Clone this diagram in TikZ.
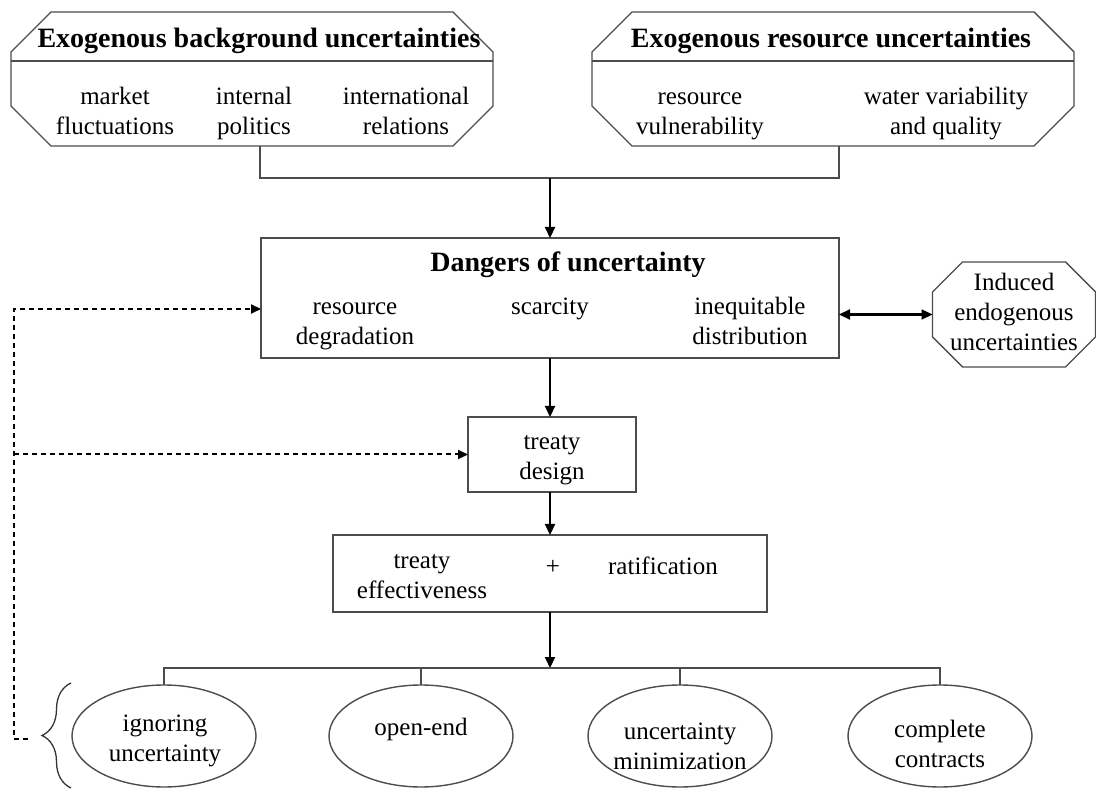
\documentclass[tikz,border=0pt]{standalone}
\usepackage{fontspec}
\setmainfont{Liberation Serif}
\usetikzlibrary{arrows.meta,shapes.geometric,decorations.pathreplacing}
\newcommand{\octframe}[2]{%
  \draw[frame]
    ([xshift=#2]#1.north west)--([xshift=-#2]#1.north east)
    --([yshift=-#2]#1.north east)--([yshift=#2]#1.south east)
    --([xshift=-#2]#1.south east)--([xshift=#2]#1.south west)
    --([yshift=#2]#1.south west)--([yshift=-#2]#1.north west)--cycle;%
}
% fixed top/bottom so every text block is centred the same way
\newcommand{\cell}[2][21pt]{\rule{0pt}{#1}#2\strut}

\begin{document}
\begin{tikzpicture}[x=1pt,y=-1pt,
    frame/.style={draw=black!70,line width=1.4pt},
    base/.style={inner sep=0pt,outer sep=0pt},
    txt/.style={align=center,inner sep=0pt,font=\fontsize{25}{30}\selectfont},
    head/.style={inner sep=0pt,font=\fontsize{28}{32}\selectfont\bfseries},
    tree/.style={draw=black!70,line width=1.4pt},
    arr/.style={line width=2.2pt,-{Triangle[length=11pt,width=10pt]}},
    dashline/.style={line width=2pt,dash pattern=on 5pt off 4pt},
    oval/.style={ellipse,frame,base,minimum width=184pt,minimum height=102pt}]
  \useasboundingbox (0,0) rectangle (1096,791);

  % exogenous uncertainties
  \node[base,minimum width=482pt,minimum height=134pt] (bgunc) at (252,79) {};
  \octframe{bgunc}{40pt}
  \draw[frame] ([yshift=-49pt]bgunc.north west)--([yshift=-49pt]bgunc.north east);
  \node[head] (bghead) at (259,41) {Exogenous background uncertainties};
  \node[txt] (market) at (115,114) {\cell{market\\fluctuations}};
  \node[txt] (politics) at (254,114) {\cell{internal\\politics}};
  \node[txt] (relations) at (406,114) {\cell{international\\relations}};

  \node[base,minimum width=482pt,minimum height=134pt] (resunc) at (833,79) {};
  \octframe{resunc}{40pt}
  \draw[frame] ([yshift=-49pt]resunc.north west)--([yshift=-49pt]resunc.north east);
  \node[head] (reshead) at (831,41) {Exogenous resource uncertainties};
  \node[txt] (vulner) at (700,114) {\cell{resource\\vulnerability}};
  \node[txt] (water) at (946,114) {\cell{water variability\\and quality}};

  % dangers
  \node[base,frame,minimum width=578pt,minimum height=120pt] (dangers) at (550,298) {};
  \node[head] (dhead) at (568,265) {Dangers of uncertainty};
  \node[txt] (degrad) at (355,324) {\cell{resource\\degradation}};
  \node[txt] (scarcity) at (550,309) {\cell{scarcity}};
  \node[txt] (inequit) at (750,324) {\cell{inequitable\\distribution}};

  \node[base,minimum width=163pt,minimum height=105pt,txt] (induced) at (1014,314.5)
    {\cell[22pt]{Induced\\endogenous\\uncertainties}};
  \octframe{induced}{30pt}

  % treaty
  \node[base,frame,txt,minimum width=168pt,minimum height=75pt]
    (design) at (552,454.5) {\cell[30pt]{treaty\\design}};
  \node[base,frame,minimum width=434pt,minimum height=77pt] (effect) at (550,573.5) {};
  \node[txt] (efftxt) at (422,577) {\cell{treaty\\effectiveness}};
  \node[txt] (plus) at (553,569) {\cell{+}};
  \node[txt] (ratif) at (663,569) {\cell{ratification}};

  % treaty types
  \node[oval] (ignore) at (164,736) {};
  \node[oval] (openend) at (421,736) {};
  \node[oval] (minim) at (680,736) {};
  \node[oval] (complete) at (940,736) {};
  \node[txt] (ignoretxt) at (165,740) {\cell{ignoring\\uncertainty}};
  \node[txt] (openendtxt) at (421,729) {\cell{open-end}};
  \node[txt] (minimtxt) at (680,748) {\cell{uncertainty\\minimization}};
  \node[txt] (completetxt) at (940,746) {\cell{complete\\contracts}};

  % connectors
  \coordinate (join) at (550,178);
  \coordinate (split) at (550,668);
  \draw[tree] ([xshift=8pt]bgunc.south) |- (join) -| ([xshift=6pt]resunc.south);
  \draw[arr] (join)--(dangers.north);
  \draw[line width=2.2pt,{Triangle[length=11pt,width=10pt]}-{Triangle[length=11pt,width=10pt]}]
    (induced.west -| dangers.east)--(induced.west);
  \draw[arr] (dangers.south)--(design.north -| dangers.south);
  \draw[arr] (design.south -| effect.north)--(effect.north);
  \draw[arr] (effect.south)--(split);
  \draw[tree] (ignore.north) |- (split) -| (complete.north);
  \draw[tree] (openend.north)--(openend.north |- split);
  \draw[tree] (minim.north)--(minim.north |- split);

  % feedback
  \coordinate (bracetop) at (71,683);
  \coordinate (bracebot) at (71,788);
  \coordinate (dashtip) at (28,739);
  \coordinate (dashleft) at (14,739);
  \draw[black!80,line width=1.3pt,decorate,decoration={brace,amplitude=29pt}]
    (bracebot)--(bracetop);
  \draw[dashline,-{Triangle[length=10pt,width=9pt]}]
    (dashtip)--(dashleft) |- ([yshift=-11pt]dangers.west);
  \draw[dashline,-{Triangle[length=10pt,width=9pt]}]
    (dashleft |- design.west)--(design.west);
\end{tikzpicture}
\end{document}
